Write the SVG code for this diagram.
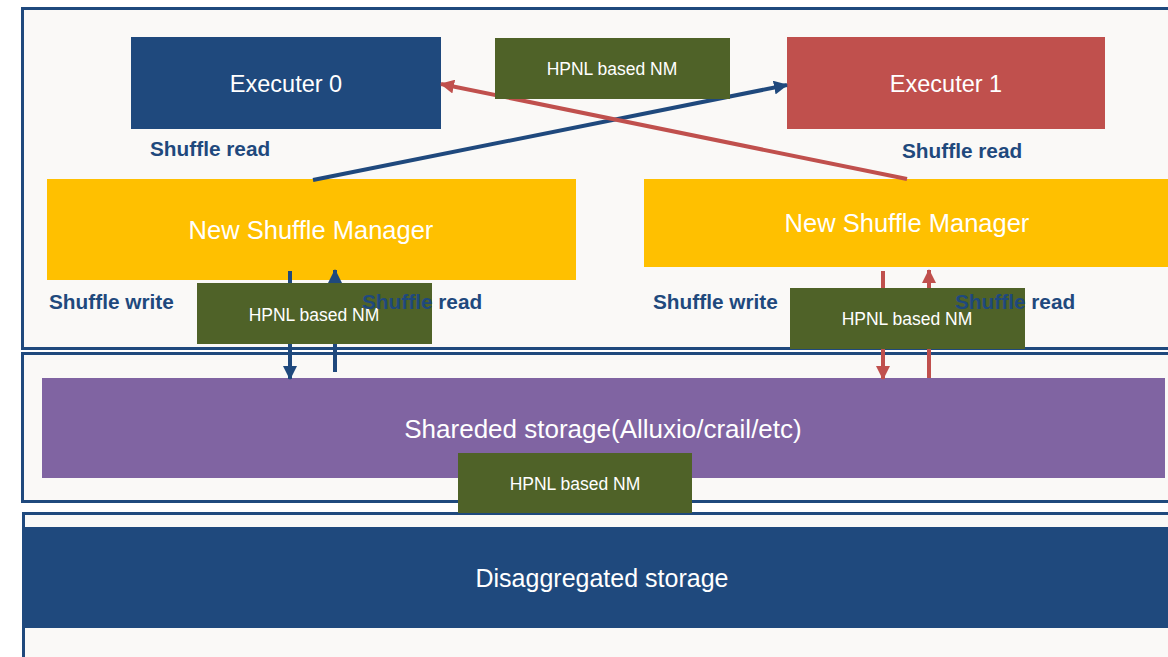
<svg xmlns="http://www.w3.org/2000/svg" width="1168" height="657" viewBox="0 0 1168 657">
<style>
.panel{fill:#faf9f7;stroke:#1f497d;stroke-width:3}
.t{font-family:"Liberation Sans",Arial,sans-serif;fill:#ffffff;text-anchor:middle}
.lbl{font-family:"Liberation Sans",Arial,sans-serif;font-weight:bold;font-size:20.8px;fill:#1f497d}
.nm{fill:#4f6228}
.nmt{font-family:"Liberation Sans",Arial,sans-serif;fill:#ffffff;text-anchor:middle;font-size:17.5px}
.blue{stroke:#1f497d;stroke-width:4;fill:none}
.red{stroke:#c0504d;stroke-width:4;fill:none}
</style>
<defs>
<marker id="ab" markerUnits="userSpaceOnUse" viewBox="0 0 14 14" refX="13" refY="7" markerWidth="14" markerHeight="14" orient="auto"><path d="M0,0 L14,7 L0,14 Z" fill="#1f497d"/></marker>
<marker id="ar" markerUnits="userSpaceOnUse" viewBox="0 0 14 14" refX="13" refY="7" markerWidth="14" markerHeight="14" orient="auto"><path d="M0,0 L14,7 L0,14 Z" fill="#c0504d"/></marker>
</defs>
<rect width="1168" height="657" fill="#ffffff"/>
<g id="panels">
<rect class="panel" x="22.5" y="8.5" width="1160" height="340"/>
<rect class="panel" x="22.5" y="353.5" width="1160" height="148"/>
<rect class="panel" x="23.5" y="513.5" width="1160" height="200"/>
</g>
<g id="executer0"><rect x="131" y="37" width="310" height="92" fill="#1f497d"/><text class="t" x="286" y="92" font-size="23.5">Executer 0</text></g>
<g id="executer1"><rect x="787" y="37" width="318" height="92" fill="#c0504d"/><text class="t" x="946" y="92" font-size="23.5">Executer 1</text></g>
<g id="nsm0"><rect x="47" y="179" width="529" height="101" fill="#ffc000"/><text class="t" x="311" y="239" font-size="25.5">New Shuffle Manager</text></g>
<g id="nsm1"><rect x="644" y="179" width="530" height="88" fill="#ffc000"/><text class="t" x="907" y="232" font-size="25.5">New Shuffle Manager</text></g>
<g id="shared"><rect x="42" y="378" width="1123" height="100" fill="#8064a2"/><text class="t" x="603" y="438" font-size="26">Shareded storage(Alluxio/crail/etc)</text></g>
<g id="disagg"><rect x="24" y="527" width="1150" height="101" fill="#1f497d"/><text class="t" x="602" y="587" font-size="25">Disaggregated storage</text></g>
<g id="connectors">
<line class="blue" x1="313" y1="180" x2="787" y2="85" marker-end="url(#ab)"/>
<line class="red" x1="907" y1="179" x2="441" y2="84" marker-end="url(#ar)"/>
<line class="blue" x1="290" y1="271" x2="290" y2="379" marker-end="url(#ab)"/>
<line class="blue" x1="335" y1="372" x2="335" y2="270" marker-end="url(#ab)"/>
<line class="red" x1="883" y1="271" x2="883" y2="379" marker-end="url(#ar)"/>
<line class="red" x1="929" y1="378" x2="929" y2="270" marker-end="url(#ar)"/>
</g>
<g id="nm-top"><rect class="nm" x="495" y="38" width="235" height="61"/><text class="nmt" x="612" y="75">HPNL based NM</text></g>
<g id="nm-left"><rect class="nm" x="197" y="283" width="235" height="61"/><text class="nmt" x="314" y="321">HPNL based NM</text></g>
<g id="nm-right"><rect class="nm" x="790" y="288" width="235" height="61"/><text class="nmt" x="907" y="325">HPNL based NM</text></g>
<g id="nm-bottom"><rect class="nm" x="458" y="453" width="234" height="60"/><text class="nmt" x="575" y="490">HPNL based NM</text></g>
<g id="labels">
<text class="lbl" x="150" y="156">Shuffle read</text>
<text class="lbl" x="902" y="158">Shuffle read</text>
<text class="lbl" x="49" y="309">Shuffle write</text>
<text class="lbl" x="362" y="309">Shuffle read</text>
<text class="lbl" x="653" y="309">Shuffle write</text>
<text class="lbl" x="955" y="309">Shuffle read</text>
</g>
</svg>
